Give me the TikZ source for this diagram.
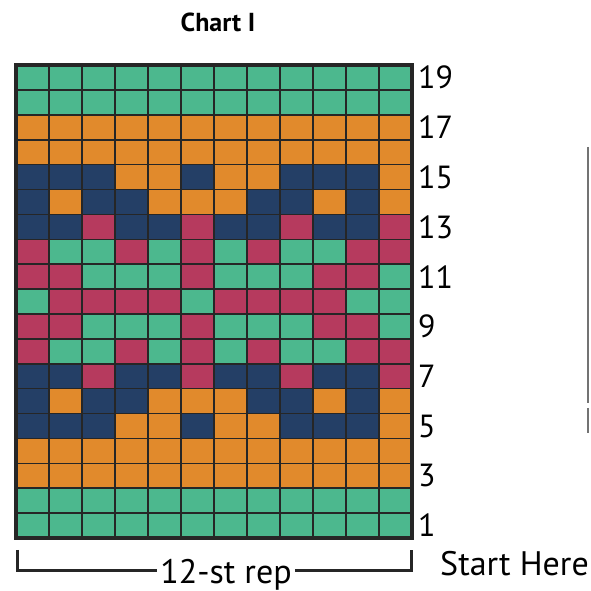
\documentclass[tikz,border=0pt]{standalone}
\usepackage{fontspec}
\setmainfont{PT Sans}
\usetikzlibrary{positioning,calc}
\definecolor{chartG}{HTML}{4CB88E}
\definecolor{chartO}{HTML}{E18A2C}
\definecolor{chartN}{HTML}{243F66}
\definecolor{chartM}{HTML}{B63A5E}
\tikzset{
  cell/.style={fill=chart#1},
  gridline/.style={draw=black!85, line width=1.6pt},
  rowlabel/.style={anchor=west, inner sep=0pt, font=\fontsize{32}{32}\selectfont},
  bottomtext/.style={anchor=base, inner sep=0pt, font=\fontsize{34}{34}\selectfont},
  bracket/.style={draw=black!85, line width=3pt},
}

\begin{document}
\begin{tikzpicture}[x=1pt,y=1pt]
  \useasboundingbox (0,0) rectangle (590,591);
  \node[anchor=base, font=\bfseries\fontsize{26}{26}\selectfont] (title) at (218,559) {Chart I};
  \begin{scope}[shift={(16,53)}, x=33pt, y=24.89pt]
    \foreach \r/\pattern in {
      19/{G,G,G,G,G,G,G,G,G,G,G,G}, 18/{G,G,G,G,G,G,G,G,G,G,G,G},
      17/{O,O,O,O,O,O,O,O,O,O,O,O}, 16/{O,O,O,O,O,O,O,O,O,O,O,O},
      15/{N,N,N,O,O,N,O,O,N,N,N,O}, 14/{N,O,N,N,O,O,O,N,N,O,N,O},
      13/{N,N,M,N,N,M,N,N,M,N,N,M}, 12/{M,G,G,M,G,M,G,M,G,G,M,M},
      11/{M,M,G,G,G,M,G,G,G,M,M,G}, 10/{G,M,M,M,M,G,M,M,M,M,G,G},
      9/{M,M,G,G,G,M,G,G,G,M,M,G},  8/{M,G,G,M,G,M,G,M,G,G,M,M},
      7/{N,N,M,N,N,M,N,N,M,N,N,M},  6/{N,O,N,N,O,O,O,N,N,O,N,O},
      5/{N,N,N,O,O,N,O,O,N,N,N,O},  4/{O,O,O,O,O,O,O,O,O,O,O,O},
      3/{O,O,O,O,O,O,O,O,O,O,O,O},  2/{G,G,G,G,G,G,G,G,G,G,G,G},
      1/{G,G,G,G,G,G,G,G,G,G,G,G}}
      \foreach \c [count=\i] in \pattern
        \fill[cell=\c] (\i-1,\r-1) rectangle (\i,\r);
    \foreach \i in {1,...,11}
      \draw[gridline] (\i,0) -- (\i,19);
    \foreach \j in {1,...,18}
      \draw[gridline] (0,\j) -- (12,\j);
    \draw[draw=black!85, line width=2.8pt] (0,10) -- (12,10);
    \draw[draw=black!85, line width=3.5pt] (0,0) rectangle (12,19);
    \foreach \r in {1,3,...,19}
      \node[rowlabel] (row\r) at (12.18,\r-0.5) {\r};
  \end{scope}
  \coordinate (repL) at (17,20);
  \coordinate (repR) at (411,20);
  \node[bottomtext] (rep) at (226,8) {12-st rep};
  \node[bottomtext, anchor=base west] (start) at (440,15) {Start Here};
  \draw[bracket] ($(repL)+(0,21)$) -- (repL) -- ([xshift=-3pt]rep.west |- repL);
  \draw[bracket] ([xshift=3pt]rep.east |- repR) -- (repR) -- ($(repR)+(0,21)$);
  \draw[black!55, line width=1.5pt] (588,444) -- (588,188);
  \draw[black!55, line width=1.5pt] (588,183) -- (588,158);
\end{tikzpicture}
\end{document}
